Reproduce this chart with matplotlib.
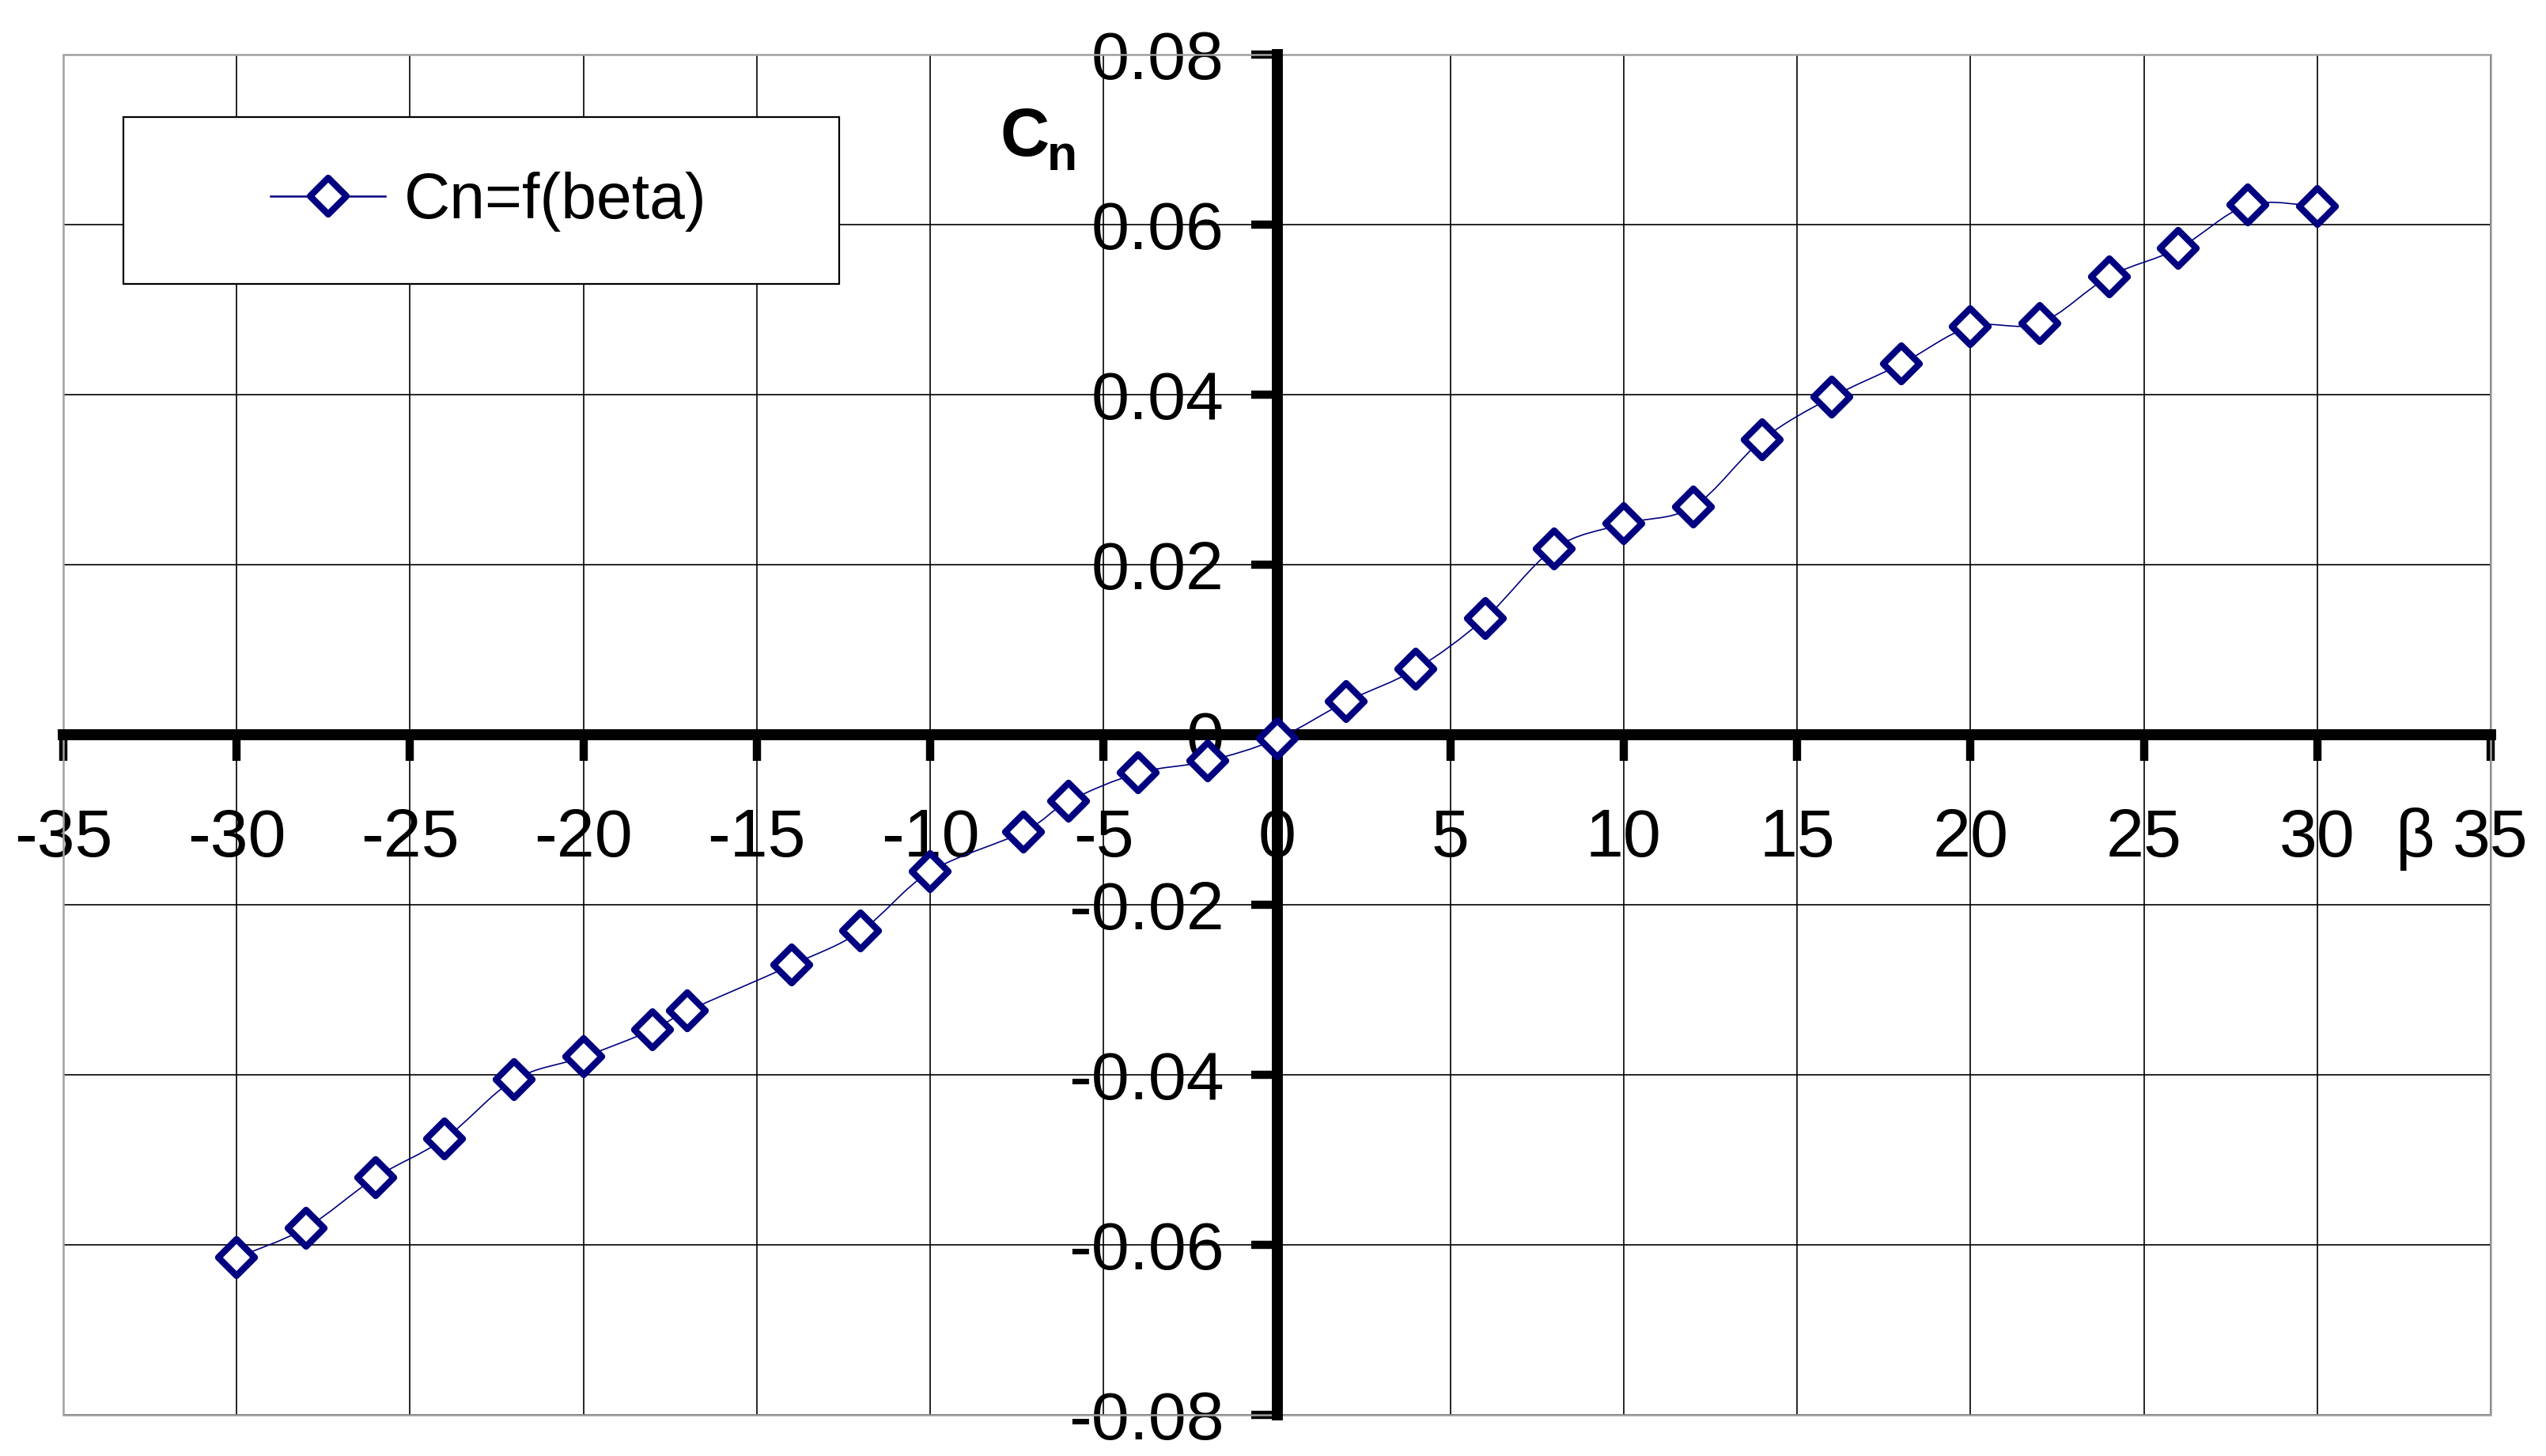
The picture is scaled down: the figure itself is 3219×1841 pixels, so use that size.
import matplotlib
matplotlib.use("Agg")
import matplotlib.pyplot as plt
from matplotlib.path import Path
from matplotlib.patches import PathPatch, Rectangle
from matplotlib.lines import Line2D
from matplotlib.markers import MarkerStyle
import numpy as np

plt.rcParams['font.family'] = ['Liberation Sans', 'DejaVu Sans']
plt.rcParams['axes.unicode_minus'] = False

# ---- data ----
beta = [-30, -28, -26, -24, -22, -20, -18, -17, -14, -12, -10, -7.3, -6, -4, -2, 0,
        2, 4, 6, 8, 10, 12, 14, 16, 18, 20, 22, 24, 26, 28, 30]
cn = [-0.0615, -0.0580, -0.0521, -0.0475, -0.0406, -0.0379, -0.0347, -0.0325,
      -0.0271, -0.0231, -0.0161, -0.0114, -0.0078, -0.0045, -0.0031, -0.0005,
      0.0039, 0.0077, 0.0137, 0.0219, 0.0248, 0.0268, 0.0347, 0.0397, 0.0436,
      0.0480, 0.0484, 0.0539, 0.0572, 0.0623, 0.0621]
series_label = "Cn=f(beta)"
x_ticks = [-35, -30, -25, -20, -15, -10, -5, 0, 5, 10, 15, 20, 25, 30, 35]
x_ticklabels = ["-35", "-30", "-25", "-20", "-15", "-10", "-5", "0", "5", "10",
                "15", "20", "25", "30", "35"]
y_ticks = [-0.08, -0.06, -0.04, -0.02, 0.0, 0.02, 0.04, 0.06, 0.08]
y_ticklabels = ["-0.08", "-0.06", "-0.04", "-0.02", "0", "0.02", "0.04", "0.06", "0.08"]

W, H = 3219, 1841
DPI = 100
NAVY = '#000080'
FS = 62

fig = plt.figure(figsize=(W / DPI, H / DPI), dpi=DPI)
fig.patch.set_facecolor('white')
ax = fig.add_axes([80 / W, 1 - 1789 / H, (3149 - 80) / W, (1789 - 69) / H])
ax.set_xlim(-35, 35)
ax.set_ylim(-0.08, 0.08)

# grid
ax.set_xticks(x_ticks)
ax.set_xticklabels(x_ticklabels)
ax.set_yticks(y_ticks)
ax.set_yticklabels(y_ticklabels)
ax.grid(True, color='black', linewidth=1.2)

# gray plot-area frame
ax.add_patch(Rectangle((0, 0), 1, 1, transform=ax.transAxes, fill=False,
                       edgecolor='#a0a0a0', linewidth=1.8, zorder=1.6, clip_on=False))

# axes through origin
for side in ['top', 'right']:
    ax.spines[side].set_visible(False)
ax.spines['left'].set_position(('data', 0))
ax.spines['bottom'].set_position(('data', 0))
for side in ['left', 'bottom']:
    ax.spines[side].set_linewidth(10)
    ax.spines[side].set_color('black')
    ax.spines[side].set_zorder(2.2)

ax.tick_params(axis='both', direction='out', length=24, width=7.5, colors='black',
               labelsize=FS)
ax.tick_params(axis='x', pad=42)
ax.tick_params(axis='y', pad=24)

# smoothed line (Catmull-Rom -> cubic Bezier)
pts = np.column_stack([beta, cn])
n = len(pts)
verts = [pts[0]]
codes = [Path.MOVETO]
for i in range(n - 1):
    p0 = pts[i - 1] if i > 0 else pts[i]
    p1 = pts[i]
    p2 = pts[i + 1]
    p3 = pts[i + 2] if i + 2 < n else pts[i + 1]
    c1 = p1 + (p2 - p0) / 6.0
    c2 = p2 - (p3 - p1) / 6.0
    verts += [c1, c2, p2]
    codes += [Path.CURVE4, Path.CURVE4, Path.CURVE4]
ax.add_patch(PathPatch(Path(verts, codes), fill=False, edgecolor=NAVY,
                       linewidth=1.2, zorder=3))

mk = MarkerStyle('D', joinstyle='round')
MS, MEW = 23, 6.0
ax.plot(beta, cn, linestyle='none', marker=mk, markersize=MS,
        markerfacecolor='white', markeredgecolor=NAVY, markeredgewidth=MEW,
        zorder=4, clip_on=False)

# legend box + entry
ax.add_patch(Rectangle((156 / W, 1 - 359 / H), 905 / W, 211 / H,
                       transform=fig.transFigure, facecolor='white',
                       edgecolor='black', linewidth=1.6, zorder=6, clip_on=False))
handle = Line2D([], [], color=NAVY, linewidth=1.8, marker=mk, markersize=MS,
                markerfacecolor='white', markeredgecolor=NAVY, markeredgewidth=MEW)
leg = ax.legend([handle], [series_label], loc='center left',
                bbox_to_anchor=(342 / W, 1 - 255 / H), bbox_transform=fig.transFigure,
                frameon=False, fontsize=58, handlelength=1.8, handletextpad=0.3,
                borderpad=0, borderaxespad=0, numpoints=1)
leg.set_zorder(7)

# axis titles
fig.text(1265 / W, 1 - 197 / H, "C", fontsize=FS, fontweight='bold',
         ha='left', va='baseline')
fig.text(1324 / W, 1 - 215 / H, "n", fontsize=45, fontweight='bold',
         ha='left', va='baseline')
fig.text(3054 / W, 1 - 1083 / H, "β", fontsize=FS, ha='center', va='baseline')

fig.savefig("out.png", dpi=DPI, facecolor='white')
